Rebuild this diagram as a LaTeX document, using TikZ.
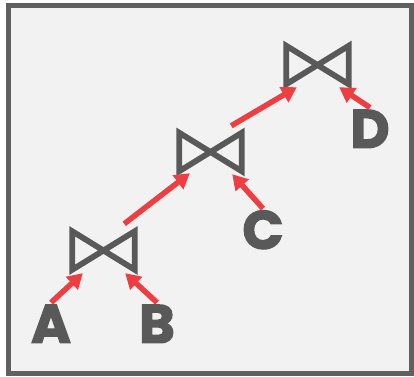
\documentclass[tikz,border=0pt]{standalone}
\usepackage{fontspec}
\setmainfont{Poppins}[BoldFeatures={FakeBold=2.5}]
\usetikzlibrary{arrows.meta,calc}
\definecolor{framegray}{HTML}{606060}
\definecolor{bgfill}{HTML}{F2F2F2}
\definecolor{shapegray}{HTML}{595959}
\definecolor{arrowred}{HTML}{EF3E42}
\begin{document}
\begin{tikzpicture}[x=1pt,y=-1pt,
  bowtie/.style={rectangle,minimum width=62pt,minimum height=38pt,inner sep=0pt},
  bowline/.style={draw=shapegray,line width=5.8pt,line join=miter,miter limit=10},
  letter/.style={anchor=south,inner sep=0pt,text height=40pt,text depth=0pt,
    text=shapegray,font=\fontsize{54}{54}\selectfont\bfseries},
  flow/.style={draw=arrowred,line width=5.5pt,-{Triangle[length=15pt,width=17pt]}}]
\useasboundingbox (0,0) rectangle (414,376);
\fill[white] (0,0) rectangle (414,376);
\draw[draw=framegray,fill=bgfill,line width=5pt] (8.5,5.5) rectangle (411.5,373.5);
% join operators
\node[bowtie] (b1) at (103.5,250.5) {};
\node[bowtie] (b2) at (210.5,152) {};
\node[bowtie] (b3) at (317.5,65) {};
\foreach \n in {b1,b2,b3}
  \draw[bowline] (\n.north west) -- (\n.south east) -- (\n.north east) -- (\n.south west) -- cycle;
% relations
\node[letter] (A) at (51,343) {A};
\node[letter] (B) at (157,343) {B};
\node[letter] (C) at (263,249) {C};
\node[letter] (D) at (370,148) {D};
% arrows
\draw[flow] (A.north) -- ($(b1.south west)+(10.5,3.5)$);
\draw[flow] (B.north) -- ($(b1.south east)+(-9.5,3.5)$);
\draw[flow] ($(b1.north east)+(-10.5,-7.5)$) -- ($(b2.south west)+(10.5,2)$);
\draw[flow] (C.north) -- ($(b2.south east)+(-9.5,3)$);
\draw[flow] ($(b2.north east)+(-10.5,-7)$) -- ($(b3.south west)+(10.5,3)$);
\draw[flow] (D.north) -- ($(b3.south east)+(-9.5,3)$);
\end{tikzpicture}
\end{document}
